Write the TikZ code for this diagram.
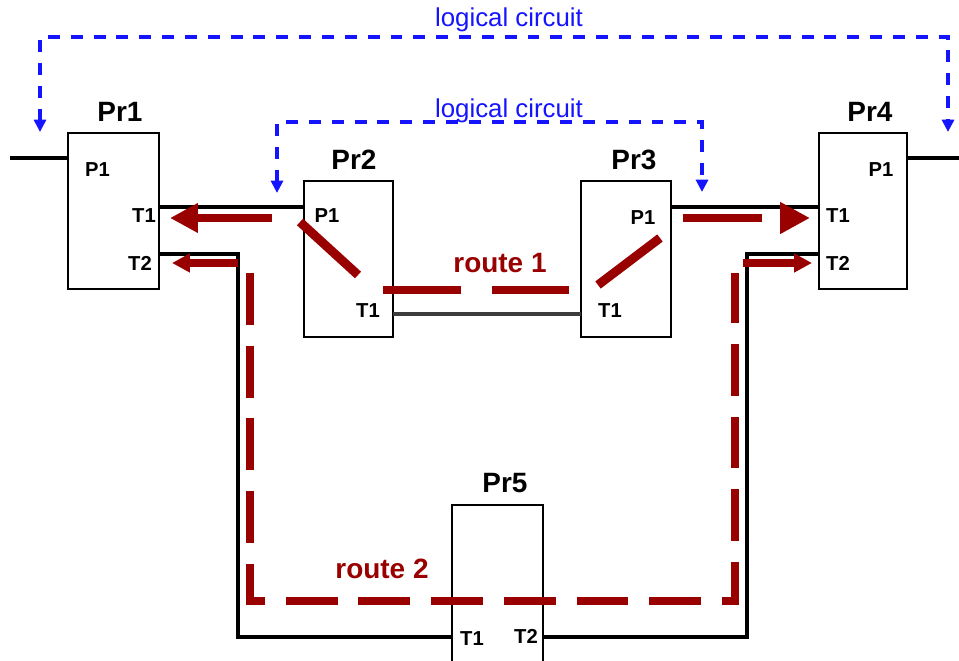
\documentclass[tikz,border=0pt]{standalone}
\usepackage{fontspec}
\setmainfont{Liberation Sans}
\usetikzlibrary{arrows.meta}
\definecolor{routered}{RGB}{153,0,0}
\definecolor{circblue}{RGB}{20,20,255}
\definecolor{wiregray}{RGB}{60,60,60}
\tikzset{
  box/.style={draw, line width=1.3pt, minimum height=3.12cm, inner sep=0pt},
  prname/.style={font=\bfseries\fontsize{15.9}{18}\selectfont, anchor=base},
  port/.style={font=\bfseries\fontsize{11.5}{13}\selectfont, anchor=base},
  wire/.style={line width=2pt},
  route/.style={routered, line width=5.1pt},
  thinroute/.style={routered, line width=4pt},
  rlabel/.style={routered, font=\bfseries\fontsize{15.9}{18}\selectfont, anchor=base},
  logic/.style={circblue, line width=2pt, dash pattern=on 6.8pt off 6.2pt,
    {Triangle[length=7pt,width=6.8pt]}-{Triangle[length=7pt,width=6.8pt]}},
  llabel/.style={circblue, font=\fontsize{14.7}{17}\selectfont, anchor=base}
}
\begin{document}
\begin{tikzpicture}[x=0.02cm, y=-0.02cm]
\useasboundingbox (0,0) rectangle (959,661);
\clip (0,0) rectangle (959,661);

% boxes
\node[box, minimum width=1.82cm] (pr1) at (113.5,211) {};
\node[box, minimum width=1.78cm] (pr2) at (348.5,259) {};
\node[box, minimum width=1.80cm] (pr3) at (626,259) {};
\node[box, minimum width=1.76cm] (pr4) at (863,211) {};
\node[box, minimum width=1.82cm, minimum height=3.9cm] (pr5) at (497.5,602.5) {};

\node[prname] (pr1name) at (120,122) {Pr1};
\node[prname] (pr2name) at (354,170) {Pr2};
\node[prname] (pr3name) at (634,170) {Pr3};
\node[prname] (pr4name) at (870,122) {Pr4};
\node[prname] (pr5name) at (505,493) {Pr5};

% port labels
\node[port] (pr1p1l) at (97.5,177) {P1};
\node[port] (pr1t1l) at (144,223) {T1};
\node[port] (pr1t2l) at (140,271) {T2};
\node[port] (pr2p1l) at (327,223) {P1};
\node[port] (pr2t1l) at (368,318) {T1};
\node[port] (pr3p1l) at (643,225) {P1};
\node[port] (pr3t1l) at (610,318) {T1};
\node[port] (pr4p1l) at (881,177) {P1};
\node[port] (pr4t1l) at (838,223) {T1};
\node[port] (pr4t2l) at (838,271) {T2};
\node[port] (pr5t1l) at (472,645) {T1};
\node[port] (pr5t2l) at (526,643) {T2};

% ports
\coordinate (pr1-p1) at (68,158);
\coordinate (pr1-t1) at (159,207);
\coordinate (pr1-t2) at (159,254);
\coordinate (pr2-p1) at (304,207);
\coordinate (pr2-t1) at (393,314);
\coordinate (pr3-t1) at (581,314);
\coordinate (pr3-p1) at (671,207);
\coordinate (pr4-t1) at (819,207);
\coordinate (pr4-t2) at (819,254);
\coordinate (pr4-p1) at (907,158);
\coordinate (pr5-t1) at (452,637);
\coordinate (pr5-t2) at (543,637);
\coordinate (inleft) at (10,158);
\coordinate (outright) at (959,158);
\coordinate (bendl1) at (238,254);
\coordinate (bendl2) at (238,637);
\coordinate (bendr1) at (747,254);
\coordinate (bendr2) at (747,637);

% links
\draw[wire] (inleft) -- (pr1-p1);
\draw[wire] (pr4-p1) -- (outright);
\draw[wire] (pr1-t1) -- (pr2-p1);
\draw[wire] (pr3-p1) -- (pr4-t1);
\draw[wire, wiregray] (pr2-t1) -- (pr3-t1);
\draw[wire] (pr1-t2) -- (bendl1) -- (bendl2) -- (pr5-t1);
\draw[wire] (pr4-t2) -- (bendr1) -- (bendr2) -- (pr5-t2);

% logical circuits
\draw[logic] (40,132) -- (40,37) -- (948,37) -- (948,132);
\node[llabel] (lc1) at (509,27) {logical circuit};
\draw[logic] (277,193) -- (277,122) -- (702,122) -- (702,192);
\node[llabel] (lc2) at (509,118) {logical circuit};

% route 1
\draw[route, -{Triangle[length=15.9pt,width=15.9pt]}] (272,218) -- (170,218);
\draw[route] (300,222) -- (358,275);
\draw[route, dash pattern=on 44.2pt off 17.6pt] (383,290) -- (570,290);
\draw[route] (598,285) -- (660,238);
\draw[route, dash pattern=on 44.8pt off 30pt, -{Triangle[length=17pt,width=17pt]}] (683,218) -- (810,218);
\node[rlabel] (r1) at (500,273) {route 1};

% route 2
\draw[thinroute, -{Triangle[length=10.2pt,width=10.2pt]}] (238,263) -- (172,263);
\draw[thinroute, -{Triangle[length=10.2pt,width=10.2pt]}] (743,263) -- (812,263);
\draw[routered, line width=4.5pt, dash pattern=on 29.5pt off 11.9pt] (250,273) -- (250,601) -- (735,601) -- (735,273);
\node[rlabel] (r2) at (382,578) {route 2};
\end{tikzpicture}
\end{document}
